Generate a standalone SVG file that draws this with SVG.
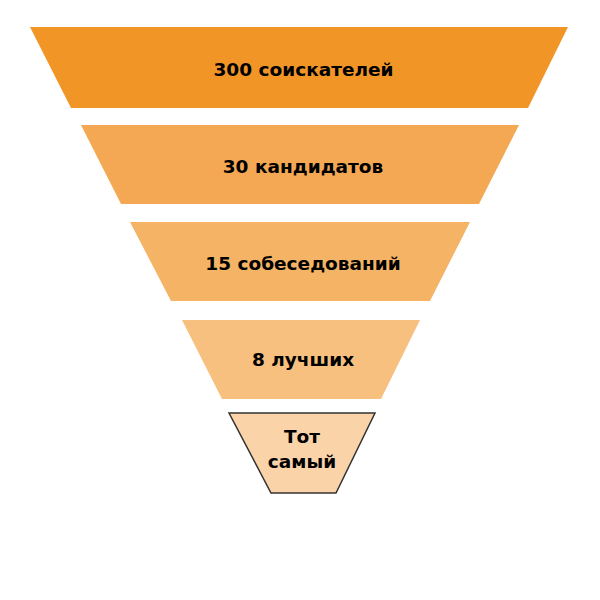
<svg xmlns="http://www.w3.org/2000/svg" width="600" height="600" viewBox="0 0 600 600">
<style>
text{font-family:"DejaVu Sans","Liberation Sans",sans-serif;font-weight:bold;font-size:18.5px;fill:#000;text-anchor:middle}
</style>
<rect width="600" height="600" fill="#fff"/>
<g id="n1"><polygon points="30,27 568,27 528,108 71,108" fill="#F29527"/><text x="303.5" y="76">300 соискателей</text></g>
<g id="n2"><polygon points="81,125 519,125 479,204 121,204" fill="#F4A853"/><text x="303" y="173">30 кандидатов</text></g>
<g id="n3"><polygon points="130,222 470,222 430,301 171,301" fill="#F5B366"/><text x="303" y="270">15 собеседований</text></g>
<g id="n4"><polygon points="182,320 420,320 381,399 222,399" fill="#F7C07F"/><text x="303" y="366">8 лучших</text></g>
<g id="n5"><polygon points="229,413 375,413 336,493 271,493" fill="#FAD3A8" stroke="#333" stroke-width="1.5"/><text x="302" y="443">Тот</text><text x="302" y="468">самый</text></g>
</svg>
